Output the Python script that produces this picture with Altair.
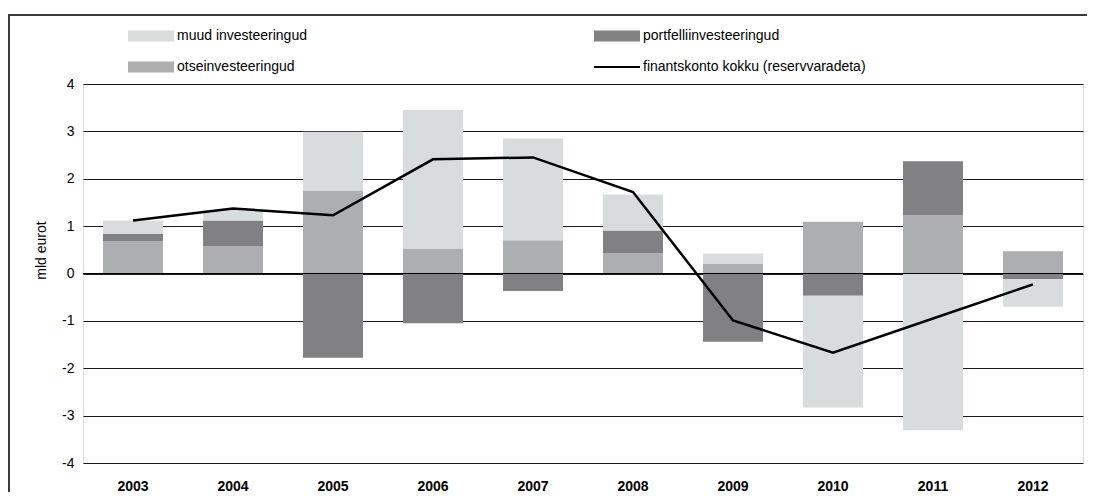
import altair as alt
import pandas as pd

years = ["2003", "2004", "2005", "2006", "2007", "2008", "2009", "2010", "2011", "2012"]
muud = [0.28, 0.22, 1.25, 2.92, 2.15, 0.76, 0.21, -2.36, -3.31, -0.58]
portf = [0.16, 0.54, -1.78, -1.05, -0.37, 0.48, -1.44, -0.47, 1.14, -0.12]
otse = [0.68, 0.58, 1.74, 0.53, 0.70, 0.43, 0.21, 1.09, 1.23, 0.47]
kokku = [1.12, 1.37, 1.23, 2.41, 2.45, 1.72, -0.99, -1.67, -0.95, -0.23]

s_muud = "muud investeeringud"
s_portf = "portfelliinvesteeringud"
s_otse = "otseinvesteeringud"
s_line = "finantskonto kokku (reservvaradeta)"

# legend is laid out column by column: column 1 = muud, otse; column 2 = portf, line
series_domain = [s_muud, s_otse, s_portf, s_line]
series_colors = ["#d9dcdd", "#adaeb0", "#818184", "#000000"]

rows = []
for i, y in enumerate(years):
    rows.append({"year": y, "series": s_otse, "ord": 0, "value": otse[i]})
    rows.append({"year": y, "series": s_portf, "ord": 1, "value": portf[i]})
    rows.append({"year": y, "series": s_muud, "ord": 2, "value": muud[i]})
bars_df = pd.DataFrame(rows)
line_df = pd.DataFrame({"year": years, "series": [s_line] * len(years), "value": kokku})
zero_df = pd.DataFrame({"value": [0]})

FONT = "Liberation Sans"

xenc = alt.X(
    "year:N",
    title=None,
    scale=alt.Scale(paddingInner=0.4, paddingOuter=0.2),
    axis=alt.Axis(labelAngle=0, labelFontWeight="bold", labelFontSize=14, labelFont=FONT,
                  labelColor="#000", ticks=False, tickSize=0, domain=False, grid=False,
                  labelBaseline="alphabetic", labelPadding=27),
)
yscale = alt.Scale(domain=[-4, 4], nice=False)

color = alt.Color(
    "series:N",
    scale=alt.Scale(domain=series_domain, range=series_colors),
    legend=alt.Legend(
        title=None, orient="none", legendX=61, legendY=-55, columns=2,
        columnPadding=265, rowPadding=-13, padding=0, labelLimit=0,
        symbolType="stroke", symbolSize=2116,
        symbolStrokeWidth=alt.ExprRef(expr="datum.value === '" + s_line + "' ? 2 : 11"),
        symbolStrokeColor=alt.ExprRef(expr="scale('color', datum.value)"),
        labelFont=FONT, labelFontSize=14, labelColor="#000", labelOffset=19,
    ),
)

# outer frame of the figure: left edge and a thin top band
frame_left = alt.Chart(zero_df).mark_rule(stroke="#3a3a3a", strokeWidth=2).encode(
    x=alt.value(-74), y=alt.value(-70), y2=alt.value(408)
)
frame_top = alt.Chart(zero_df).mark_rect(fill="#3a3a3a", stroke=None).encode(
    x=alt.value(-75), x2=alt.value(1004), y=alt.value(-70), y2=alt.value(-68)
)

bars = alt.Chart(bars_df).mark_bar().encode(
    x=xenc,
    y=alt.Y("value:Q", stack="zero", scale=yscale, title="mld eurot",
            axis=alt.Axis(values=[-4, -3, -2, -1, 0, 1, 2, 3, 4], labelExpr="'' + datum.value",
                          ticks=False, tickSize=0,
                          domain=False, grid=True, gridColor="#1a1a1a", gridWidth=1,
                          labelFont=FONT, labelFontSize=14, labelColor="#000", labelPadding=9,
                          titleFont=FONT, titleFontSize=14, titleFontWeight="normal", titleColor="#000",
                          titleX=-42, titleY=166, titleAngle=270, titleAlign="center",
                          titleBaseline="middle")),
    color=color,
    order=alt.Order("ord:Q"),
)

zero = alt.Chart(zero_df).mark_rule(color="#000", strokeWidth=1).encode(y=alt.Y("value:Q", scale=yscale))

line = alt.Chart(line_df).mark_line(strokeWidth=2.5, strokeJoin="miter").encode(
    x=alt.X("year:N"),
    y=alt.Y("value:Q", scale=yscale),
    color=color,
)

chart = alt.layer(frame_left, frame_top, bars, zero, line).properties(
    width=1000, height=379,
    autosize=alt.AutoSizeParams(type="none"),
    padding={"left": 75, "top": 76, "right": 4, "bottom": 29},
).configure_view(stroke=None).configure(background="white")

chart.save("out.html", embed_options={"renderer": "svg", "actions": False})
